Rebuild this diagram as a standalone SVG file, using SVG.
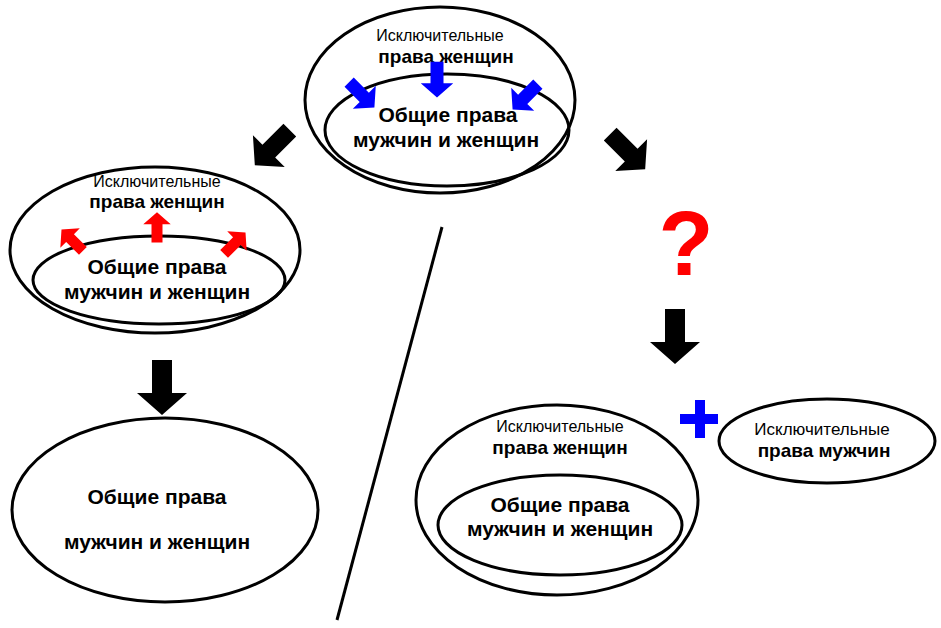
<svg xmlns="http://www.w3.org/2000/svg" width="941" height="628" viewBox="0 0 941 628">
<style>
.e{fill:none;stroke:#000;stroke-width:3}
.s{font-family:"Liberation Sans",Arial,sans-serif;font-size:16px;text-anchor:middle}
.b{font-family:"Liberation Sans",Arial,sans-serif;font-size:19px;font-weight:bold;text-anchor:middle}
.c{font-family:"Liberation Sans",Arial,sans-serif;font-size:21px;font-weight:bold;text-anchor:middle}
</style>
<defs><path id="ar" d="M-10,-28 L10,-28 L10,5 L25,5 L0,27 L-25,5 L-10,5 Z"/></defs>
<rect width="941" height="628" fill="#fff"/>
<g id="top">
<ellipse class="e" cx="440" cy="100" rx="135" ry="93"/>
<ellipse class="e" cx="447" cy="130" rx="122" ry="56"/>
<text class="s" x="440" y="41">Исключительные</text>
<text class="b" x="446" y="63">права женщин</text>
<text class="c" x="448" y="122">Общие права</text>
<text class="c" x="446" y="147">мужчин и женщин</text>
</g>
<g id="left">
<ellipse class="e" cx="155" cy="250" rx="145" ry="83"/>
<ellipse class="e" cx="159" cy="280" rx="126" ry="44"/>
<text class="s" x="157" y="187">Исключительные</text>
<text class="b" x="157" y="208">права женщин</text>
<text class="c" x="157" y="274">Общие права</text>
<text class="c" x="157" y="299">мужчин и женщин</text>
</g>
<g id="bottomleft">
<ellipse class="e" cx="165" cy="510" rx="153" ry="92"/>
<text class="c" x="157" y="504">Общие права</text>
<text class="c" x="157" y="549">мужчин и женщин</text>
</g>
<g id="bottomright">
<ellipse class="e" cx="557" cy="500" rx="141" ry="95"/>
<ellipse class="e" cx="560" cy="525" rx="122" ry="50"/>
<text class="s" x="560" y="432">Исключительные</text>
<text class="b" x="560" y="454">права женщин</text>
<text class="c" x="560" y="512">Общие права</text>
<text class="c" x="560" y="536">мужчин и женщин</text>
</g>
<g id="men">
<ellipse class="e" cx="827" cy="441" rx="108" ry="42"/>
<text class="s" x="822" y="435" style="font-size:17px">Исключительные</text>
<text class="b" x="824" y="457" style="font-size:19px">права мужчин</text>
</g>
<g id="connectors">
<line x1="442" y1="227" x2="337" y2="620" stroke="#000" stroke-width="3"/>
<use href="#ar" transform="translate(272,148) rotate(45) scale(0.9)"/>
<use href="#ar" transform="translate(628,152) rotate(-45) scale(0.9)"/>
<use href="#ar" transform="translate(675,337)"/>
<use href="#ar" transform="translate(162,388)"/>
<use href="#ar" fill="#00f" transform="translate(437,80) scale(0.65)"/>
<use href="#ar" fill="#00f" transform="translate(362,95) rotate(-45) scale(0.65)"/>
<use href="#ar" fill="#00f" transform="translate(525,97) rotate(45) scale(0.65)"/>
<use href="#ar" fill="#f00" transform="translate(157,227) rotate(180) scale(0.55)"/>
<use href="#ar" fill="#f00" transform="translate(72,240) rotate(135) scale(0.55)"/>
<use href="#ar" fill="#f00" transform="translate(235,243) rotate(-135) scale(0.55)"/>
<text x="686" y="275" font-family="Liberation Sans,Arial,sans-serif" font-size="90" font-weight="bold" fill="#f00" text-anchor="middle">?</text>
<rect x="695" y="400" width="10" height="38" fill="#00f"/>
<rect x="680" y="414" width="38" height="10" fill="#00f"/>
</g>
</svg>
